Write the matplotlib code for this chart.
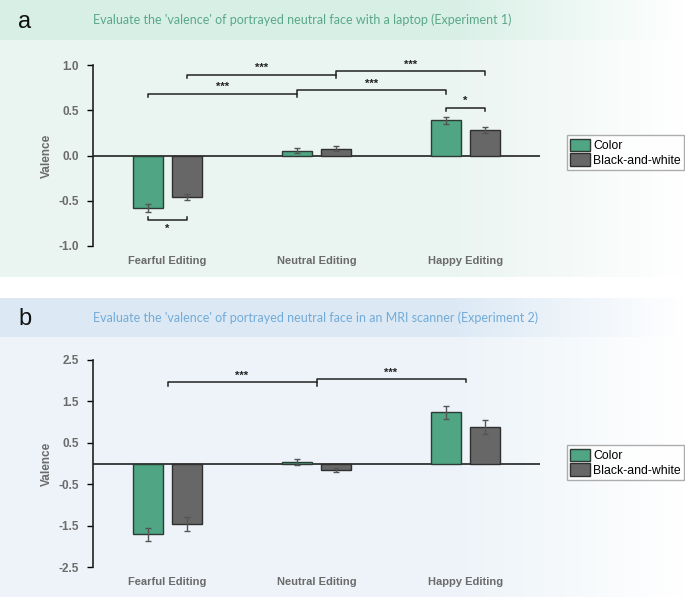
import numpy as np
import matplotlib
matplotlib.use("Agg")
import matplotlib.pyplot as plt
from matplotlib.patches import Patch

plt.rcParams['font.family'] = ['Liberation Sans', 'DejaVu Sans']

# data
groups = ["Fearful Editing", "Neutral Editing", "Happy Editing"]
series = ["Color", "Black-and-white"]

# experiment 1 (laptop)
exp1_color = [-0.58, 0.055, 0.39]
exp1_bw = [-0.46, 0.075, 0.28]
exp1_color_err = [0.04, 0.03, 0.04]
exp1_bw_err = [0.035, 0.03, 0.035]

# experiment 2 (MRI)
exp2_color = [-1.71, 0.04, 1.24]
exp2_bw = [-1.47, -0.16, 0.89]
exp2_color_err = [0.15, 0.07, 0.16]
exp2_bw_err = [0.17, 0.05, 0.17]

green = "#4fa584"
gray = "#676767"
txt_gray = "#6b6b6b"

W, H = 685, 597
fig = plt.figure(figsize=(W / 100, H / 100), dpi=100)

# background bands (fading to white on the right)
bg = fig.add_axes([0, 0, 1, 1])
bg.set_xlim(0, W)
bg.set_ylim(H, 0)
bg.axis("off")


def band(y0, y1, rgb):
    fade = np.clip((W - np.arange(W)) / 230.0, 0, 1)
    img = np.ones((1, W, 3))
    for i in range(3):
        img[0, :, i] = 1 - (1 - rgb[i]) * fade
    bg.imshow(img, extent=(0, W, y1, y0), aspect="auto", interpolation="bilinear")


band(0, 40, (0.85, 0.94, 0.905))
band(40, 277, (0.92, 0.96, 0.945))
band(298, 337, (0.865, 0.915, 0.96))
band(337, H, (0.93, 0.955, 0.975))
bg.set_xlim(0, W)
bg.set_ylim(H, 0)

fig.text(25 / W, 1 - 22 / H, "a", fontsize=17, ha="center", va="center", color="#111")
fig.text(93 / W, 1 - 20 / H, "Evaluate the 'valence' of portrayed neutral face with a laptop (Experiment 1)",
         fontsize=9, color="#5aa88a", va="center", family=["Lato", "DejaVu Sans"])
fig.text(25 / W, 1 - 319 / H, "b", fontsize=17, ha="center", va="center", color="#111")
fig.text(93 / W, 1 - 318 / H, "Evaluate the 'valence' of portrayed neutral face in an MRI scanner (Experiment 2)",
         fontsize=9, color="#72abd8", va="center", family=["Lato", "DejaVu Sans"])

x = np.arange(len(groups))
off = 0.131
bw = 0.205


def draw_panel(ax, color_vals, bw_vals, color_err, bw_err, ylim, yticks, fmt):
    ax.set_facecolor("none")
    ax.bar(x - off, color_vals, bw, color=green, edgecolor="#2e3b35", linewidth=1, zorder=3)
    ax.bar(x + off, bw_vals, bw, color=gray, edgecolor="#2f2f2f", linewidth=1, zorder=3)
    ax.errorbar(x - off, color_vals, yerr=color_err, fmt="none", ecolor="#555", elinewidth=1,
                capsize=2, capthick=1, zorder=4)
    ax.errorbar(x + off, bw_vals, yerr=bw_err, fmt="none", ecolor="#555", elinewidth=1,
                capsize=2, capthick=1, zorder=4)
    ax.axhline(0, color="#222", linewidth=1.2, zorder=2)
    ax.set_xlim(-0.5, 2.5)
    ax.set_ylim(*ylim)
    ax.set_yticks(yticks)
    ax.set_yticklabels([fmt.format(t) for t in yticks])
    ax.set_xticks(x)
    ax.set_xticklabels(groups)
    for sp in ["top", "right", "bottom"]:
        ax.spines[sp].set_visible(False)
    ax.spines["left"].set_color("#222")
    ax.spines["left"].set_linewidth(1.2)
    ax.tick_params(axis="x", length=0, pad=7, labelsize=8, labelcolor=txt_gray)
    ax.tick_params(axis="y", length=4, width=1, labelsize=8.5, labelcolor=txt_gray, pad=6)
    for lab in ax.get_xticklabels() + ax.get_yticklabels():
        lab.set_fontweight("bold")
    ax.set_ylabel("Valence", fontsize=8.5, fontweight="bold", color=txt_gray, labelpad=4)


def bracket(ax, x1, x2, y, h, label, up=False, text_off=0.0):
    d = h if not up else -h
    ax.plot([x1, x1, x2, x2], [y - d, y, y, y - d], color="#222", linewidth=1.1, zorder=5,
            clip_on=False)
    ax.text((x1 + x2) / 2, y + text_off, label, ha="center", va="bottom" if not up else "top",
            fontsize=8, color="#222", fontweight="bold")


# panel a
ax1 = fig.add_axes([93 / W, 1 - 246 / H, 447 / W, 181 / H])
draw_panel(ax1, exp1_color, exp1_bw, exp1_color_err, exp1_bw_err,
           (-1.0, 1.0), [1.0, 0.5, 0.0, -0.5, -1.0], "{:.1f}")
h1 = 0.035
bracket(ax1, 0 - off, 1 - off, 0.685, h1, "***", text_off=0.015)
bracket(ax1, 0 + off, 1 + off, 0.895, h1, "***", text_off=0.015)
bracket(ax1, 1 - off, 2 - off, 0.72, h1, "***", text_off=0.015)
bracket(ax1, 1 + off, 2 + off, 0.93, h1, "***", text_off=0.015)
bracket(ax1, 2 - off, 2 + off, 0.53, h1, "*", text_off=0.015)
bracket(ax1, 0 - off, 0 + off, -0.71, h1, "*", up=True, text_off=-0.04)

# panel b
ax2 = fig.add_axes([93 / W, 1 - 567 / H, 447 / W, 207 / H])
draw_panel(ax2, exp2_color, exp2_bw, exp2_color_err, exp2_bw_err,
           (-2.5, 2.5), [2.5, 1.5, 0.5, -0.5, -1.5, -2.5], "{:.1f}")
h2 = 0.08
bracket(ax2, 0, 1, 1.96, h2, "***", text_off=0.03)
bracket(ax2, 1, 2, 2.05, h2, "***", text_off=0.03)

# legends
handles = [Patch(facecolor=green, edgecolor="#2e3b35", label=series[0]),
           Patch(facecolor=gray, edgecolor="#2f2f2f", label=series[1])]
for yc in (152.5, 462.5):
    leg = fig.legend(handles=handles, loc="center left", bbox_to_anchor=(567 / W, 1 - yc / H),
                     fontsize=8.8, frameon=True, fancybox=False, edgecolor="#999",
                     handlelength=1.6, handleheight=1.2, handletextpad=0.3, labelspacing=0.1,
                     borderpad=0.25, borderaxespad=0)
    leg.get_frame().set_linewidth(1)
    leg.get_frame().set_facecolor("white")

fig.savefig("out.png", dpi=100)
